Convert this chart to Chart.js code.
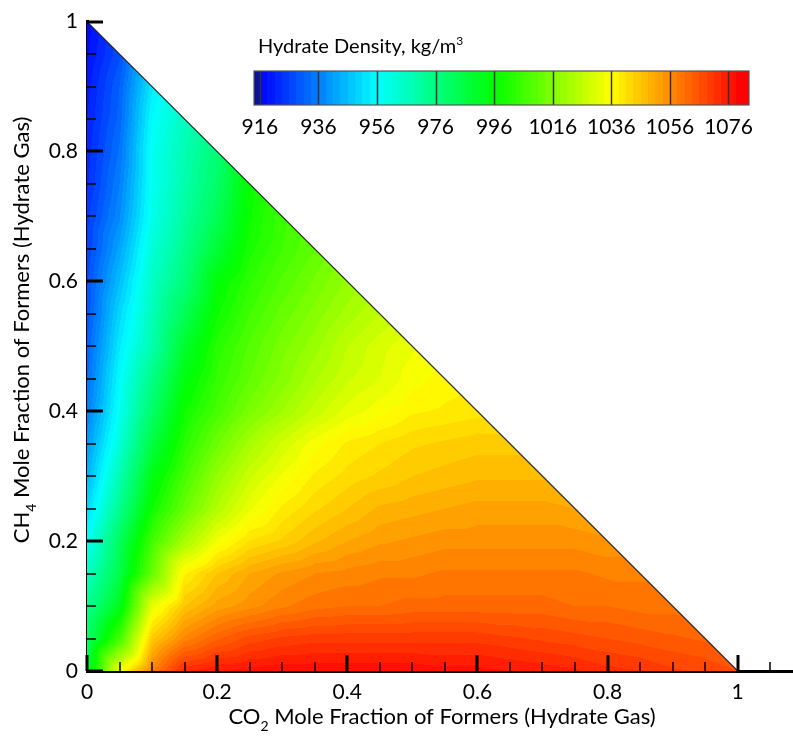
<!DOCTYPE html>
<html>
<head>
<meta charset="utf-8">
<script src="https://cdn.jsdelivr.net/npm/chart.js@4.4.0/dist/chart.umd.min.js"></script>
<style>
  body { margin: 0; background: #fff; }
  #wrap { position: relative; width: 793px; height: 736px; }
  #wrap canvas { position: absolute; left: 0; top: 0; }
</style>
</head>
<body>
<div id="wrap">
  <canvas id="c1" width="793" height="736"></canvas>
  <canvas id="c2" width="793" height="150"></canvas>
</div>
<script>
  // density, kg/m3, on a 0.05 grid
  // one row per CH4 fraction, values run over CO2 fraction 0, 0.05, ... up to the edge x + y = 1
  var gridStep = 0.05
  var d00 = [988, 1034, 1058, 1073, 1076, 1077, 1078, 1078, 1078, 1078, 1078, 1077, 1077, 1076, 1075, 1074, 1072, 1071, 1069, 1068, 1066]
  var d05 = [980, 1006, 1045, 1057, 1063, 1067, 1069, 1070, 1070, 1070, 1070, 1070, 1070, 1069, 1068, 1067, 1066, 1065, 1064, 1063]
  var d10 = [973, 992, 1032, 1046, 1052, 1055, 1058, 1060, 1061, 1061, 1062, 1062, 1062, 1062, 1062, 1061, 1061, 1060, 1060]
  var d15 = [965, 985, 1012, 1038, 1046, 1051, 1054, 1056, 1057, 1058, 1058, 1059, 1059, 1059, 1059, 1059, 1058, 1058]
  var d20 = [957, 982, 1006, 1022, 1034, 1041, 1044, 1048, 1051, 1053, 1054, 1055, 1055, 1055, 1055, 1055, 1054]
  var d25 = [950, 974, 998, 1012, 1024, 1033, 1039, 1043, 1046, 1049, 1050, 1051, 1052, 1052, 1052, 1051]
  var d30 = [944, 968, 993, 1007, 1019, 1028, 1034, 1039, 1042, 1044, 1046, 1047, 1048, 1048, 1048]
  var d35 = [940, 962, 986, 1002, 1013, 1022, 1029, 1035, 1039, 1041, 1043, 1044, 1045, 1045]
  var d40 = [936, 958, 980, 998, 1007, 1015, 1021, 1027, 1032, 1035, 1038, 1039, 1040]
  var d45 = [933, 956, 975, 994, 1004, 1011, 1017, 1023, 1028, 1031, 1035, 1037]
  var d50 = [931, 953, 969, 989, 1002, 1009, 1015, 1020, 1026, 1030, 1033]
  var d55 = [929, 950, 967, 983, 998, 1006, 1012, 1017, 1022, 1026]
  var d60 = [928, 946, 965, 977, 995, 1003, 1009, 1014, 1019]
  var d65 = [926, 942, 962, 974, 988, 1000, 1006, 1011]
  var d70 = [925, 938, 959, 971, 983, 998, 1005]
  var d75 = [923, 936, 958, 969, 980, 997]
  var d80 = [922, 934, 958, 968, 978]
  var d85 = [921, 932, 956, 966]
  var d90 = [920, 931, 953]
  var d95 = [918, 928]
  var d100 = [917]
  var densityRows = [d00, d05, d10, d15, d20, d25, d30, d35, d40, d45, d50,
    d55, d60, d65, d70, d75, d80, d85, d90, d95, d100]

  // axes
  var xTicks = [0, 0.2, 0.4, 0.6, 0.8, 1]
  var yTicks = [0, 0.2, 0.4, 0.6, 0.8, 1]
  var xMinor = [0.05, 0.1, 0.15, 0.25, 0.3, 0.35, 0.45, 0.5, 0.55, 0.65, 0.7, 0.75, 0.85, 0.9, 0.95, 1.05]
  var yMinor = [0.05, 0.1, 0.15, 0.25, 0.3, 0.35, 0.45, 0.5, 0.55, 0.65, 0.7, 0.75, 0.85, 0.9, 0.95]
  var edgeX = [0, 1]
  var edgeY = [1, 0]

  // colour bar
  var cbTicks = [916, 936, 956, 976, 996, 1016, 1036, 1056, 1076]
  var cbMin = 914
  var cbMax = 1083

  // flood levels and colour map
  var levelBase = 916
  var levelStep = 2.5
  var cmapStops = [916, 956, 996, 1036, 1080]
  var cmapColors = [[0, 0, 255], [0, 255, 255], [0, 255, 0], [255, 255, 0], [255, 0, 0]]

  var FONT = 'Lato, "Open Sans", sans-serif'

  function node(i, j) {
    var row = densityRows[Math.min(j, densityRows.length - 1)]
    return row[Math.max(0, Math.min(i, row.length - 1))]
  }

  // linear interpolation on the triangles of the grid
  function densityAt(x, y) {
    var n = densityRows.length - 1
    var gx = x / gridStep, gy = y / gridStep
    var j = Math.min(Math.floor(gy), n - 1)
    var i = Math.min(Math.floor(gx), n - 1 - j)
    var fx = gx - i, fy = gy - j
    var v00 = node(i, j), v10 = node(i + 1, j), v01 = node(i, j + 1)
    if (fx + fy <= 1) return v00 + fx * (v10 - v00) + fy * (v01 - v00)
    var v11 = node(i + 1, j + 1)
    return v11 + (1 - fx) * (v01 - v11) + (1 - fy) * (v10 - v11)
  }

  function colorFor(v) {
    if (v < levelBase) return [12, 20, 150]
    var k = Math.floor((v - levelBase) / levelStep)
    var q = levelBase + (k + 0.5) * levelStep
    if (q >= cmapStops[cmapStops.length - 1]) return cmapColors[cmapColors.length - 1]
    for (var s = 0; s < cmapStops.length - 1; s++) {
      if (q <= cmapStops[s + 1]) {
        var t = (q - cmapStops[s]) / (cmapStops[s + 1] - cmapStops[s])
        var a = cmapColors[s], b = cmapColors[s + 1]
        return [a[0] + t * (b[0] - a[0]), a[1] + t * (b[1] - a[1]), a[2] + t * (b[2] - a[2])]
      }
    }
  }

  // text with sub / superscripts: parts = [[text, 'n' | 'sub' | 'sup'], ...]
  function partFont(kind, size) {
    return (kind === 'n' ? size : Math.round(size * 0.62)) + 'px ' + FONT
  }
  function partsWidth(ctx, parts, size) {
    var w = 0
    parts.forEach(function(p) {
      ctx.font = partFont(p[1], size)
      w += ctx.measureText(p[0]).width
    })
    return w
  }
  function drawParts(ctx, parts, size, x, y) {
    ctx.textBaseline = 'alphabetic'
    ctx.textAlign = 'left'
    parts.forEach(function(p) {
      ctx.font = partFont(p[1], size)
      var dy = p[1] === 'sub' ? size * 0.3 : (p[1] === 'sup' ? -size * 0.42 : 0)
      ctx.fillText(p[0], x, y + dy)
      x += ctx.measureText(p[0]).width
    })
  }

  var fieldPlugin = {
    id: 'field',
    beforeDatasetsDraw: function(chart) {
      var xs = chart.scales.x, ys = chart.scales.y
      var x0 = Math.floor(xs.getPixelForValue(0)), x1 = Math.ceil(xs.getPixelForValue(1))
      var y0 = Math.floor(ys.getPixelForValue(1)), y1 = Math.ceil(ys.getPixelForValue(0))
      var w = x1 - x0, h = y1 - y0
      var off = document.createElement('canvas')
      off.width = w
      off.height = h
      var octx = off.getContext('2d')
      var img = octx.createImageData(w, h)
      for (var py = 0; py < h; py++) {
        var y = ys.getValueForPixel(y0 + py + 0.5)
        if (y < 0) continue
        for (var px = 0; px < w; px++) {
          var x = xs.getValueForPixel(x0 + px + 0.5)
          if (x < 0 || x + y > 1) continue
          var c = colorFor(densityAt(x, y))
          var k = (py * w + px) * 4
          img.data[k] = c[0]
          img.data[k + 1] = c[1]
          img.data[k + 2] = c[2]
          img.data[k + 3] = 255
        }
      }
      octx.putImageData(img, 0, 0)
      chart.ctx.drawImage(off, x0, y0)
    }
  }

  var axisPlugin = {
    id: 'axisDecor',
    afterDraw: function(chart) {
      var ctx = chart.ctx, xs = chart.scales.x, ys = chart.scales.y
      var bottom = ys.getPixelForValue(0), left = xs.getPixelForValue(0)
      ctx.save()
      ctx.strokeStyle = '#000'
      function xMarks(vals, len, lw) {
        ctx.lineWidth = lw
        vals.forEach(function(v) {
          var p = Math.round(xs.getPixelForValue(v))
          ctx.beginPath()
          ctx.moveTo(p, bottom)
          ctx.lineTo(p, bottom - len)
          ctx.stroke()
        })
      }
      function yMarks(vals, len, lw) {
        ctx.lineWidth = lw
        vals.forEach(function(v) {
          var p = Math.round(ys.getPixelForValue(v))
          ctx.beginPath()
          ctx.moveTo(left, p)
          ctx.lineTo(left + len, p)
          ctx.stroke()
        })
      }
      xMarks(xTicks, 16, 3)
      xMarks(xMinor, 9, 1.5)
      yMarks(yTicks, 16, 3)
      yMarks(yMinor, 9, 1.5)

      ctx.fillStyle = '#000'
      var xt = [['CO', 'n'], ['2', 'sub'], [' Mole Fraction of Formers (Hydrate Gas)', 'n']]
      var wx = partsWidth(ctx, xt, 22)
      drawParts(ctx, xt, 22, 442 - wx / 2, 724)

      var yt = [['CH', 'n'], ['4', 'sub'], [' Mole Fraction of Formers (Hydrate Gas)', 'n']]
      var wy = partsWidth(ctx, yt, 22)
      ctx.translate(29, 330)
      ctx.rotate(-Math.PI / 2)
      drawParts(ctx, yt, 22, -wy / 2, 0)
      ctx.restore()
    }
  }

  var barPlugin = {
    id: 'colorBar',
    beforeDatasetsDraw: function(chart) {
      var ctx = chart.ctx, xs = chart.scales.x, a = chart.chartArea
      for (var px = Math.floor(a.left); px < Math.ceil(a.right); px++) {
        var c = colorFor(xs.getValueForPixel(px + 0.5))
        ctx.fillStyle = 'rgb(' + Math.round(c[0]) + ',' + Math.round(c[1]) + ',' + Math.round(c[2]) + ')'
        ctx.fillRect(px, a.top, 1, a.bottom - a.top)
      }
    },
    afterDraw: function(chart) {
      var ctx = chart.ctx, xs = chart.scales.x, a = chart.chartArea
      ctx.save()
      ctx.strokeStyle = '#333'
      ctx.lineWidth = 1.5
      cbTicks.forEach(function(v) {
        var p = Math.round(xs.getPixelForValue(v)) + 0.5
        ctx.beginPath()
        ctx.moveTo(p, a.top)
        ctx.lineTo(p, a.bottom)
        ctx.stroke()
      })
      ctx.strokeStyle = '#555'
      ctx.lineWidth = 1.2
      ctx.strokeRect(a.left, a.top, a.right - a.left, a.bottom - a.top)
      ctx.fillStyle = '#000'
      drawParts(ctx, [['Hydrate Density, kg/m', 'n'], ['3', 'sup']], 20, 258, 53)
      ctx.restore()
    }
  }

  function numLabel(v) {
    return String(Math.round(v * 100) / 100)
  }

  var edgePoints = edgeX.map(function(x, i) { return { x: x, y: edgeY[i] } })

  new Chart(document.getElementById('c1'), {
    type: 'scatter',
    data: {
      datasets: [{
        data: edgePoints,
        showLine: true,
        borderColor: '#2a2a2a',
        borderWidth: 1.2,
        pointRadius: 0
      }]
    },
    options: {
      responsive: false,
      animation: false,
      events: [],
      layout: { padding: { top: 20, right: 0, bottom: 0, left: 0 } },
      plugins: { legend: { display: false }, tooltip: { enabled: false } },
      scales: {
        x: {
          type: 'linear', min: 0, max: 1.085, z: 1,
          afterBuildTicks: function(s) { s.ticks = xTicks.map(function(v) { return { value: v } }) },
          afterFit: function(s) { s.height = 65 },
          grid: { drawOnChartArea: false, drawTicks: false },
          border: { display: true, color: '#000', width: 3 },
          ticks: { padding: 9, color: '#000', maxRotation: 0, font: { family: FONT, size: 21 }, callback: numLabel }
        },
        y: {
          type: 'linear', min: 0, max: 1, z: 1,
          afterBuildTicks: function(s) { s.ticks = yTicks.map(function(v) { return { value: v } }) },
          afterFit: function(s) { s.width = 87 },
          grid: { drawOnChartArea: false, drawTicks: false },
          border: { display: true, color: '#000', width: 3 },
          ticks: { padding: 9, color: '#000', font: { family: FONT, size: 21 }, callback: numLabel }
        }
      }
    },
    plugins: [fieldPlugin, axisPlugin]
  })

  new Chart(document.getElementById('c2'), {
    type: 'scatter',
    data: { datasets: [] },
    options: {
      responsive: false,
      animation: false,
      events: [],
      layout: { padding: { left: 254, right: 44, top: 71, bottom: 5 } },
      plugins: { legend: { display: false }, tooltip: { enabled: false } },
      scales: {
        x: {
          type: 'linear', min: cbMin, max: cbMax,
          afterBuildTicks: function(s) { s.ticks = cbTicks.map(function(v) { return { value: v } }) },
          afterFit: function(s) { s.height = 40 },
          grid: { drawOnChartArea: false, drawTicks: false },
          border: { display: false },
          ticks: { padding: 10, color: '#000', maxRotation: 0, font: { family: FONT, size: 21 },
            callback: function(v) { return String(v) } }
        },
        y: { display: false, min: 0, max: 1 }
      }
    },
    plugins: [barPlugin]
  })
</script>
</body>
</html>
